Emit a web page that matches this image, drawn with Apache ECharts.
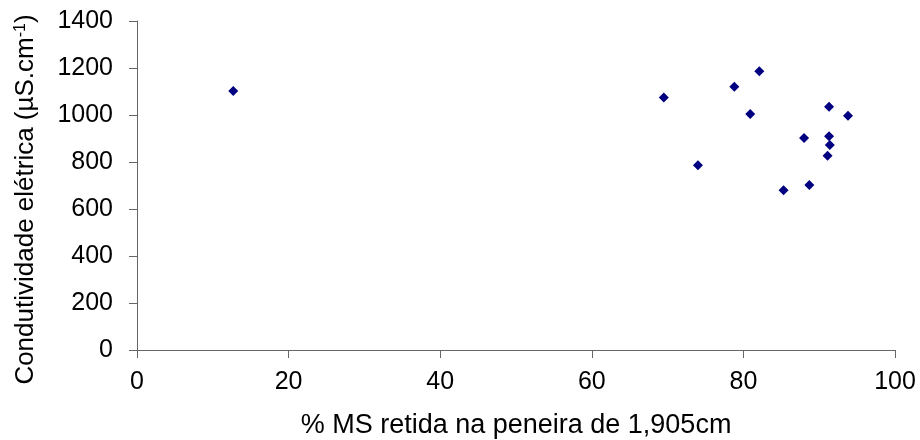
<!DOCTYPE html>
<html><head><meta charset="utf-8">
<script src="https://cdn.jsdelivr.net/npm/echarts@6/dist/echarts.min.js"></script>
<style>html,body{margin:0;padding:0;background:#fff}#c{width:920px;height:440px}</style>
</head><body><div id="c"></div>
<script>
const xValues = [12.7, 69.5, 78.8, 82.1, 80.9, 74.0, 88.0, 91.3, 93.8, 91.3, 91.4, 91.1, 88.7, 85.3];
const yValues = [1102, 1075, 1120, 1186, 1004, 786, 902, 1035, 997, 910, 872, 827, 702, 680];
const xTicks = [0, 20, 40, 60, 80, 100];
const yTicks = [0, 200, 400, 600, 800, 1000, 1200, 1400];
const xName = '% MS retida na peneira de 1,905cm';
const yNameMain = 'Condutividade elétrica (µS.cm';
const yNameSup = '-1';

const data = xValues.map((x, i) => [x, yValues[i]]);
const chart = echarts.init(document.getElementById('c'));
const font = 'Liberation Sans, Arial, sans-serif';
const axisColor = '#666';
chart.setOption({
  animation: false,
  grid: {left: 137, right: 25, top: 21, bottom: 90, containLabel: false, outerBoundsMode: 'none'},
  xAxis: {
    type: 'value', min: xTicks[0], max: xTicks[xTicks.length-1], interval: 20,
    splitLine: {show: false},
    axisLine: {onZero: false, lineStyle: {color: axisColor, width: 1}},
    axisTick: {show: true, length: 8, inside: false, lineStyle: {color: axisColor}},
    axisLabel: {color: '#000', fontSize: 25, fontFamily: font, margin: 20, formatter: v => String(v)},
    name: xName, nameLocation: 'middle', nameGap: 62,
    nameTextStyle: {color: '#000', fontSize: 27, fontFamily: font}
  },
  yAxis: {
    type: 'value', min: yTicks[0], max: yTicks[yTicks.length-1], interval: 200,
    splitLine: {show: false},
    axisLine: {show: true, lineStyle: {color: axisColor, width: 1}},
    axisTick: {show: true, length: 8, lineStyle: {color: axisColor}},
    axisLabel: {color: '#000', fontSize: 25, fontFamily: font, margin: 24, formatter: v => String(v)},
    name: '{a|' + yNameMain + '}{b|' + yNameSup + '}{a|)}', nameLocation: 'middle', nameGap: 98,
    nameTextStyle: {
      color: '#000', fontSize: 26, fontFamily: font, padding: [0, 28, 0, 0],
      rich: {
        a: {fontSize: 26, fontFamily: font, color: '#000'},
        b: {fontSize: 16, fontFamily: font, color: '#000', verticalAlign: 'top', padding: [0, 0, 10, 0]}
      }
    }
  },
  series: [{
    type: 'scatter', data: data, symbol: 'diamond', symbolSize: 10,
    itemStyle: {color: '#000080', opacity: 1}
  }]
});
</script></body></html>
